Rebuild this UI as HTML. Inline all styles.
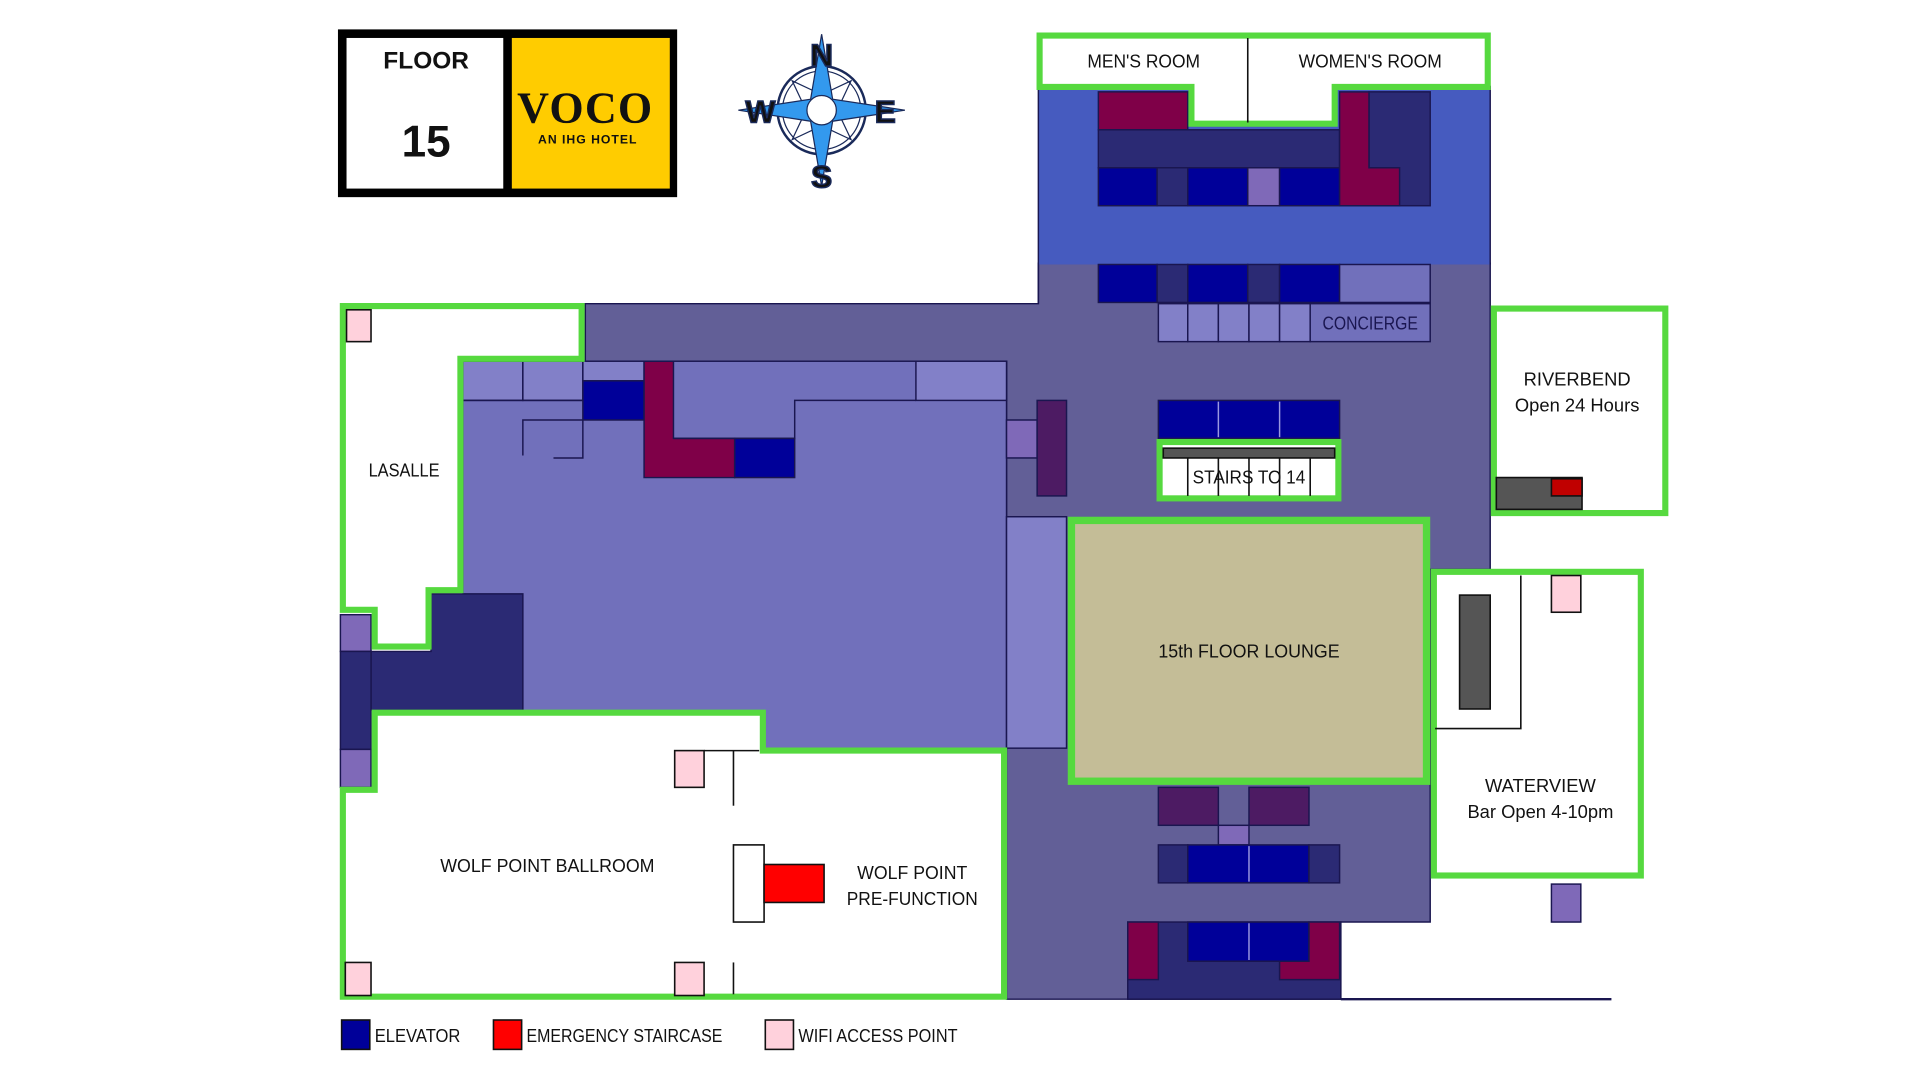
<!DOCTYPE html>
<html><head><meta charset="utf-8"><style>
html,body{margin:0;padding:0;background:#fff;width:1920px;height:1080px;overflow:hidden}
svg{display:block}
text{font-family:"Liberation Sans",sans-serif;fill:#111}
</style></head><body>
<svg width="1920" height="1080" viewBox="0 0 1568 882" xmlns="http://www.w3.org/2000/svg">
<g stroke="#1a1650" stroke-width="1.2">
<polygon points="478,248 848,248 848,215 1217,215 1217,465 1168,465 1168,753 1095,753 1095,816 822,816 822,295 478,295" fill="#625f97"/>
<rect x="848" y="70" width="369" height="146" fill="#465bbf" stroke="none"/>
<line x1="848" y1="70" x2="848" y2="248"/><line x1="1217" y1="70" x2="1217" y2="216"/>
<line x1="1095" y1="816" x2="1316" y2="816" stroke-width="2"/>
<rect x="378" y="295" width="444" height="317" fill="#7170bb"/>
<rect x="378" y="295" width="49" height="32" fill="#8280c8"/>
<rect x="427" y="295" width="49" height="32" fill="#8280c8"/>
<rect x="476" y="295" width="50" height="16" fill="#8280c8"/>
<rect x="476" y="311" width="50" height="32" fill="#000099"/>
<polygon points="526,295 550,295 550,358 600,358 600,390 526,390" fill="#7f0048"/>
<rect x="600" y="358" width="49" height="32" fill="#000099"/>
<polyline points="550,358 600,358 600,358 649,358 649,327 748,327" fill="none"/>
<rect x="748" y="295" width="74" height="32" fill="#8280c8"/>
<polyline points="378,327 476,327" fill="none"/>
<polyline points="427,372 427,343 476,343 476,374 452,374" fill="none"/>
<polygon points="352,485 427,485 427,580 303,580 303,532 352,532" fill="#2b2a74"/>
<rect x="278" y="502" width="25" height="30" fill="#7f69b8"/>
<rect x="278" y="532" width="25" height="80" fill="#2b2a74"/>
<rect x="278" y="612" width="25" height="31" fill="#7f69b8"/>
<rect x="822" y="422" width="49" height="189" fill="#8280c8"/>
<rect x="822" y="343" width="25" height="31" fill="#7f69b8"/>
<rect x="847" y="327" width="24" height="78" fill="#4d1b63"/>
<rect x="897" y="75" width="73" height="31" fill="#7f0048"/>
<rect x="897" y="106" width="197" height="31" fill="#2b2a74"/>
<rect x="897" y="137" width="48" height="31" fill="#000099"/>
<rect x="945" y="137" width="25" height="31" fill="#2b2a74"/>
<rect x="970" y="137" width="49" height="31" fill="#000099"/>
<rect x="1019" y="137" width="26" height="31" fill="#7f69b8"/>
<rect x="1045" y="137" width="49" height="31" fill="#000099"/>
<rect x="1118" y="75" width="50" height="93" fill="#2b2a74"/>
<polygon points="1094,75 1118,75 1118,137 1143,137 1143,168 1094,168" fill="#7f0048"/>
<rect x="897" y="216" width="48" height="31" fill="#000099"/>
<rect x="945" y="216" width="25" height="31" fill="#2b2a74"/>
<rect x="970" y="216" width="49" height="31" fill="#000099"/>
<rect x="1019" y="216" width="26" height="31" fill="#2b2a74"/>
<rect x="1045" y="216" width="49" height="31" fill="#000099"/>
<rect x="1094" y="216" width="74" height="31" fill="#7170bb"/>
<rect x="946" y="248" width="24" height="31" fill="#8280c8"/>
<rect x="970" y="248" width="25" height="31" fill="#8280c8"/>
<rect x="995" y="248" width="25" height="31" fill="#8280c8"/>
<rect x="1020" y="248" width="25" height="31" fill="#8280c8"/>
<rect x="1045" y="248" width="25" height="31" fill="#8280c8"/>
<rect x="1070" y="248" width="98" height="31" fill="#7170bb"/>
<rect x="946" y="327" width="148" height="31" fill="#000099"/>
<rect x="946" y="643" width="49" height="31" fill="#4d1b63"/>
<rect x="1020" y="643" width="49" height="31" fill="#4d1b63"/>
<rect x="995" y="674" width="25" height="16" fill="#7f69b8"/>
<rect x="946" y="690" width="24" height="31" fill="#2b2a74"/>
<rect x="970" y="690" width="99" height="31" fill="#000099"/>
<rect x="1069" y="690" width="25" height="31" fill="#2b2a74"/>
<rect x="921" y="753" width="174" height="63" fill="#2b2a74"/>
<rect x="921" y="753" width="25" height="47" fill="#7f0048"/>
<rect x="970" y="753" width="99" height="32" fill="#000099"/>
<polygon points="1069,753 1094,753 1094,800 1045,800 1045,785 1069,785" fill="#7f0048"/>
<rect x="1267" y="722" width="24" height="31" fill="#7f69b8"/>
</g>
<g stroke="#9a98e0" stroke-width="1.2">
<line x1="995" y1="328" x2="995" y2="357"/><line x1="1045" y1="328" x2="1045" y2="357"/>
<line x1="1020" y1="691" x2="1020" y2="720"/><line x1="1020" y1="754" x2="1020" y2="784"/>
</g>
<g stroke="#56d93f" stroke-width="5" fill="#fff">
<polygon points="280,250 475,250 475,293 376,293 376,482 350,482 350,528 306,528 306,498 280,498"/>
<polygon points="280,645 306,645 306,582 623,582 623,613 820,613 820,814 280,814"/>
<polygon points="849,29 1215,29 1215,71 1090,71 1090,101 973,101 973,71 849,71"/>
<rect x="1220" y="252" width="140" height="167"/>
<rect x="1171" y="467" width="169" height="248"/>
<rect x="947" y="361" width="146" height="46"/>
<rect x="875" y="425" width="290" height="213" fill="#c4bd97" stroke-width="6"/>
</g>
<g stroke="#111" stroke-width="1.3">
<line x1="1019" y1="31" x2="1019" y2="100"/>
<rect x="950" y="366" width="140" height="8" fill="#555"/>
<line x1="970" y1="374" x2="970" y2="405"/><line x1="995" y1="374" x2="995" y2="405"/>
<line x1="1020" y1="374" x2="1020" y2="405"/><line x1="1045" y1="374" x2="1045" y2="405"/>
<line x1="1070" y1="374" x2="1070" y2="405"/>
<rect x="1222" y="390" width="70" height="26" fill="#555"/>
<rect x="1267" y="391" width="25" height="14" fill="#c00000"/>
<polyline points="1242,470 1242,595 1172,595" fill="none"/>
<rect x="1192" y="486" width="25" height="93" fill="#555"/>
<rect x="1267" y="470" width="24" height="30" fill="#ffd1dc"/>
<rect x="283" y="253" width="20" height="26" fill="#ffd1dc"/>
<rect x="551" y="613" width="24" height="30" fill="#ffd1dc"/>
<line x1="575" y1="613" x2="620" y2="613"/>
<line x1="599" y1="613" x2="599" y2="658"/>
<rect x="599" y="690" width="25" height="63" fill="#fff"/>
<rect x="624" y="706" width="49" height="31" fill="#ff0000"/>
<line x1="599" y1="786" x2="599" y2="812"/>
<rect x="551" y="786" width="24" height="27" fill="#ffd1dc"/>
<rect x="282" y="786" width="21" height="27" fill="#ffd1dc"/>
<rect x="279" y="833" width="23" height="24" fill="#000099"/>
<rect x="403" y="833" width="23" height="24" fill="#ff0000"/>
<rect x="625" y="833" width="23" height="24" fill="#ffd1dc"/>
</g>
<g font-size="15">
<text x="306" y="851" textLength="70" lengthAdjust="spacingAndGlyphs">ELEVATOR</text>
<text x="430" y="851" textLength="160" lengthAdjust="spacingAndGlyphs">EMERGENCY STAIRCASE</text>
<text x="652" y="851" textLength="130" lengthAdjust="spacingAndGlyphs">WIFI ACCESS POINT</text>
<text x="934" y="55" text-anchor="middle" textLength="92" lengthAdjust="spacingAndGlyphs">MEN'S ROOM</text>
<text x="1119" y="55" text-anchor="middle" textLength="117" lengthAdjust="spacingAndGlyphs">WOMEN'S ROOM</text>
<text x="1119" y="269" text-anchor="middle" style="fill:#1a1650" textLength="78" lengthAdjust="spacingAndGlyphs">CONCIERGE</text>
<text x="1020" y="395" text-anchor="middle" textLength="92" lengthAdjust="spacingAndGlyphs">STAIRS TO 14</text>
<text x="1288" y="315" text-anchor="middle">RIVERBEND</text>
<text x="1288" y="336" text-anchor="middle">Open 24 Hours</text>
<text x="330" y="389" text-anchor="middle" textLength="58" lengthAdjust="spacingAndGlyphs">LASALLE</text>
<text x="1020" y="537" text-anchor="middle" textLength="148" lengthAdjust="spacingAndGlyphs">15th FLOOR LOUNGE</text>
<text x="1258" y="647" text-anchor="middle">WATERVIEW</text>
<text x="1258" y="668" text-anchor="middle">Bar Open 4-10pm</text>
<text x="447" y="712" text-anchor="middle" textLength="175" lengthAdjust="spacingAndGlyphs">WOLF POINT BALLROOM</text>
<text x="745" y="718" text-anchor="middle" textLength="90" lengthAdjust="spacingAndGlyphs">WOLF POINT</text>
<text x="745" y="739" text-anchor="middle" textLength="107" lengthAdjust="spacingAndGlyphs">PRE-FUNCTION</text>
</g>
<rect x="276" y="24" width="277" height="137" fill="#000"/>
<rect x="283" y="31" width="128" height="123" fill="#fff"/>
<rect x="418" y="31" width="129" height="123" fill="#ffcc00"/>
<text x="348" y="56" text-anchor="middle" font-size="20" font-weight="bold">FLOOR</text>
<text x="348" y="128" text-anchor="middle" font-size="36" font-weight="bold">15</text>
<text x="478" y="100" text-anchor="middle" font-size="36" style="font-family:'Liberation Serif',serif" font-weight="bold" letter-spacing="1">VOCO</text>
<text x="480" y="117" text-anchor="middle" font-size="10" font-weight="bold" letter-spacing="0.8">AN IHG HOTEL</text>
<g transform="translate(671,90)">
<circle r="36" fill="#fff" stroke="#1a2a5a" stroke-width="2"/>
<circle r="32" fill="none" stroke="#1a2a5a" stroke-width="1"/>
<g stroke="#1a2a5a" stroke-width="1" fill="none">
<polygon points="0,-34 9,-9 34,0 9,9 0,34 -9,9 -34,0 -9,-9" transform="rotate(45)"/>
</g>
<polygon points="0,-62 9,-9 68,0 9,9 0,62 -9,9 -68,0 -9,-9" fill="#3399ee" stroke="#1a2a5a" stroke-width="1"/>
<circle r="12" fill="#fff" stroke="#1a2a5a"/>
<g font-size="26" font-weight="bold" text-anchor="middle" style="fill:#fff;stroke:#1a2a5a;stroke-width:1.2">
<text x="0" y="-36">N</text>
<text x="0" y="63">S</text>
<text x="-50" y="10">W</text>
<text x="52" y="10">E</text>
</g>
</g>
</svg>
</body></html>
